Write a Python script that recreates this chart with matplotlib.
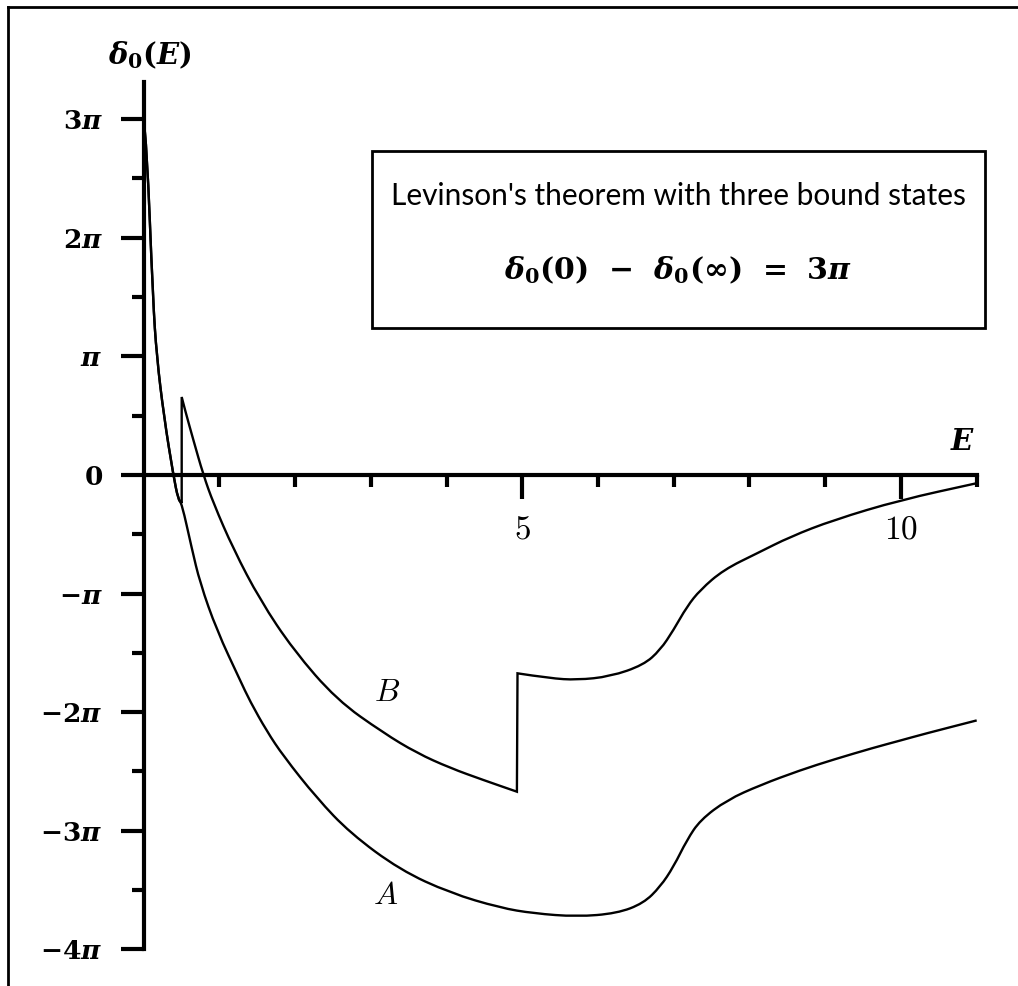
import matplotlib
matplotlib.use("Agg")
import matplotlib.pyplot as plt
from matplotlib.patches import Rectangle, PathPatch
from matplotlib.lines import Line2D
from matplotlib.path import Path
import numpy as np

plt.rcParams['mathtext.fontset'] = 'cm'
BOLD_MATH = 'dejavuserif'

# curve A: energy and phase shift (in units of pi)
E_A = [0.0, 0.041, 0.124, 0.173, 0.269, 0.392, 0.458, 0.503, 0.635, 0.745, 0.966,
       1.273, 1.406, 1.626, 1.845, 2.287, 2.727, 3.387, 4.048, 4.708, 5.148,
       5.721, 6.25, 6.60, 6.822, 6.997, 7.174, 7.35, 7.703, 8.143, 8.67,
       9.11, 9.64, 9.99, 10.30, 11.0]
d_A = [3.0, 2.80, 1.475, 1.0, 0.49, 0.0, -0.21, -0.237, -0.616, -0.91, -1.31,
       -1.73, -1.91, -2.16, -2.37, -2.725, -3.02, -3.331, -3.525, -3.65, -3.697,
       -3.725, -3.697, -3.612, -3.472, -3.304, -3.078, -2.91, -2.741, -2.615, -2.49,
       -2.40, -2.30, -2.24, -2.185, -2.07]

# curve B: same start, then jumps at E~0.5 and E~4.93
E_B = [0.0, 0.041, 0.124, 0.173, 0.269, 0.392, 0.458, 0.503, 0.503, 0.547, 0.657,
       0.789, 0.921, 1.185, 1.538, 1.978, 2.551, 3.166, 3.608, 4.047, 4.487,
       4.929, 4.937, 5.368, 5.721, 6.161, 6.60, 6.822, 6.997, 7.174, 7.35,
       7.658, 8.10, 8.539, 9.11, 9.99, 11.0]
d_B = [3.0, 2.80, 1.475, 1.0, 0.49, 0.0, -0.21, -0.237, 0.657, 0.547, 0.294,
       0.0, -0.237, -0.625, -1.055, -1.476, -1.897, -2.175, -2.345, -2.471, -2.573,
       -2.671, -1.673, -1.715, -1.729, -1.70, -1.603, -1.476, -1.308, -1.11, -0.969,
       -0.80, -0.661, -0.521, -0.38, -0.212, -0.07]

y_major = [-4, -3, -2, -1, 0, 1, 2, 3]
y_labels = [r'$\mathbf{-4}\boldsymbol{\pi}$', r'$\mathbf{-3}\boldsymbol{\pi}$',
            r'$\mathbf{-2}\boldsymbol{\pi}$', r'$\mathbf{-}\boldsymbol{\pi}$', r'$\mathbf{0}$',
            r'$\boldsymbol{\pi}$', r'$\mathbf{2}\boldsymbol{\pi}$', r'$\mathbf{3}\boldsymbol{\pi}$']
y_minor = [-3.5, -2.5, -1.5, -0.5, 0.5, 1.5, 2.5]
x_major = [5, 10]
x_minor = [1, 2, 3, 4, 6, 7, 8, 9, 11]


# smooth path through the read points, sharp at the jumps
def smooth_path(xs, ys):
    verts, codes = [], []
    pieces, start = [], 0
    for i in range(1, len(xs)):
        if xs[i] - xs[i - 1] < 0.01:
            pieces.append((start, i))
            start = i
    pieces.append((start, len(xs)))
    for k, (a, b) in enumerate(pieces):
        px, py = xs[a:b], ys[a:b]
        verts.append((px[0], py[0]))
        codes.append(Path.MOVETO if k == 0 else Path.LINETO)
        for j in range(1, len(px) - 1):
            verts.append((px[j], py[j]))
            verts.append(((px[j] + px[j + 1]) / 2, (py[j] + py[j + 1]) / 2))
            codes += [Path.CURVE3, Path.CURVE3]
        verts.append((px[-1], py[-1]))
        codes.append(Path.LINETO)
    return Path(verts, codes)


W, H = 1018, 986
fig = plt.figure(figsize=(W / 100, H / 100), dpi=100)
ax = fig.add_axes([143.6 / W, 1 - 949.3 / H, (976.7 - 143.6) / W, (949.3 - 82) / H])

for xs, ys in [(E_A, d_A), (E_B, d_B)]:
    ax.add_patch(PathPatch(smooth_path(xs, ys), fill=False, lw=1.7, edgecolor='black',
                           joinstyle='miter', clip_on=False))

ax.set_xlim(0, 11)
ax.set_ylim(-4, 3.313)

for s in ['top', 'right']:
    ax.spines[s].set_visible(False)
ax.spines['bottom'].set_position(('data', 0))
ax.spines['left'].set_linewidth(3)
ax.spines['bottom'].set_linewidth(3)

ax.set_yticks(y_major)
ax.set_yticklabels(y_labels, fontsize=19, math_fontfamily=BOLD_MATH)
ax.set_yticks(y_minor, minor=True)
ax.set_xticks(x_major)
ax.set_xticklabels([r'$5$', r'$10$'], fontsize=24)
ax.set_xticks(x_minor, minor=True)

ax.tick_params(axis='y', which='major', length=16.5, width=3, direction='out', pad=13)
ax.tick_params(axis='y', which='minor', length=8.6, width=3, direction='out')
ax.tick_params(axis='x', which='major', length=17, width=3, direction='out', pad=10)
ax.tick_params(axis='x', which='minor', length=8.6, width=3, direction='out')

# axis names and curve labels
ax.text(0.078, 3.54, r'$\boldsymbol{\delta}_\mathbf{0}\mathbf{(}\boldsymbol{E}\mathbf{)}$',
        fontsize=21, ha='center', va='center', clip_on=False, math_fontfamily=BOLD_MATH)
ax.text(10.81, 0.28, r'$\boldsymbol{E}$', fontsize=21, ha='center', va='center',
        math_fontfamily=BOLD_MATH)
ax.text(3.195, -3.55, r'$A$', fontsize=23, ha='center', va='center')
ax.text(3.21, -1.835, r'$B$', fontsize=23, ha='center', va='center')

# box with Levinson's theorem
fig.add_artist(Rectangle((372 / W, 1 - 328 / H), (985 - 372) / W, (328 - 151) / H,
                         transform=fig.transFigure, fill=False, lw=2, edgecolor='black'))
fig.text(678.5 / W, 1 - 196 / H, "Levinson's theorem with three bound states",
         fontsize=21.5, family='Lato', ha='center', va='center')
fig.text(678.5 / W, 1 - 270 / H,
         r'$\boldsymbol{\delta}_\mathbf{0}\mathbf{(0)}\mathbf{\ \,-\ \,}\boldsymbol{\delta}_\mathbf{0}\mathbf{(}\boldsymbol{\infty}\mathbf{)\ \,=\ \,3}\boldsymbol{\pi}$',
         fontsize=21.5, ha='center', va='center', math_fontfamily=BOLD_MATH)

# outer frame (left and top edges)
fig.add_artist(Line2D([8 / W, 8 / W], [0, 1 - 7 / H], transform=fig.transFigure, color='black', lw=2))
fig.add_artist(Line2D([8 / W, 1], [1 - 7 / H, 1 - 7 / H], transform=fig.transFigure, color='black', lw=2))

fig.savefig('out.png', dpi=100)
